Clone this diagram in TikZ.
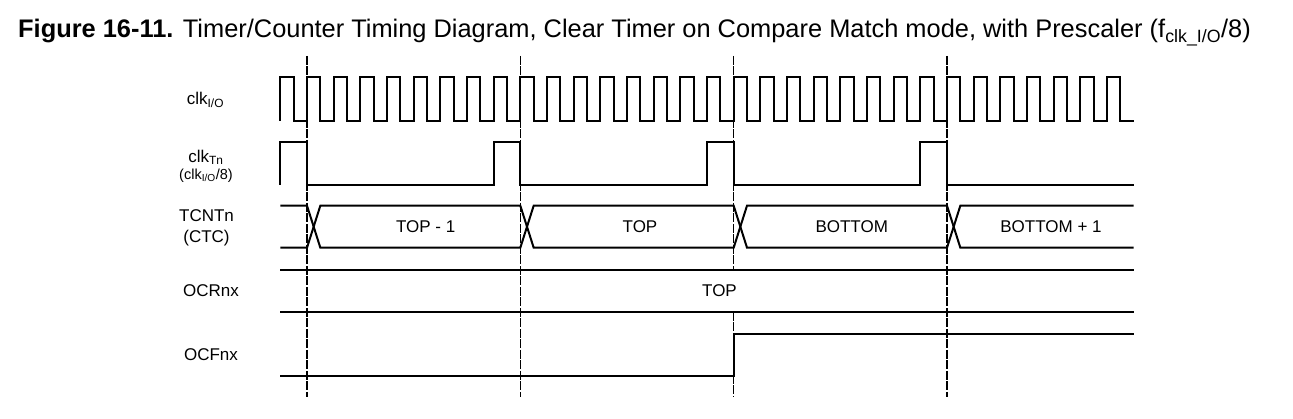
\documentclass[tikz,border=0pt]{standalone}
\usepackage{fontspec}
\setmainfont{Liberation Sans}
\usetikzlibrary{calc}

\begin{document}
\begin{tikzpicture}[
    x=1pt, y=-1pt,
    wave/.style={line width=2pt, line join=miter},
    marker/.style={line width=1.3pt, dash pattern=on 9pt off 1.5pt},
    siglabel/.style={align=center, font=\fontsize{17}{21}\selectfont},
    clklabel/.style={align=center, font=\fontsize{17}{17}\selectfont},
    value/.style={font=\fontsize{17}{21}\selectfont},
]
\useasboundingbox (0,0) rectangle (1293,419);

% title
\node[anchor=base west, inner sep=0pt, font=\fontsize{25.4}{28}\selectfont] (title) at (18,38)
  {\textbf{Figure 16-11.} Timer/Counter Timing Diagram, Clear Timer on Compare Match mode, with Prescaler (f\textsubscript{clk\_I/O}/8)};

% signal names
\node[clklabel, anchor=base west, inner sep=0pt] (clkio) at (186.7,105) {clk\textsubscript{I/O}};
\node[clklabel] (clktn) at (206,166) {clk\textsubscript{Tn}\\{\fontsize{14.5}{14.5}\selectfont(clk\textsubscript{I/O}/8)}};
\node[siglabel] (tcnt) at (206.5,227.5) {TCNTn\\(CTC)};
\node[siglabel, anchor=base] (ocr) at (211,296.7) {OCRnx};
\node[siglabel, anchor=base] (ocf) at (211,360.7) {OCFnx};

% clk I/O
\draw[wave] (280.33,121) \foreach \k in {0,...,31} {
  -- ++(0,-43.5) -- ++(13.333,0) -- ++(0,43.5) -- ++(13.333,0) };

% clk Tn
\draw[wave] (280.33,185) -- ++(0,-43.3) -- ++(26.667,0)
  \foreach \k in {1,2,3} {
    -- ++(0,43.3) -- ++(186.667,0) -- ++(0,-43.3) -- ++(26.667,0) }
  -- ++(0,43.3) -- (1133.67,185);

% TCNTn bus
\draw[wave] (280.33,205.7) -- (307,205.7)
  -- (320.33,247.7) -- (520.33,247.7) -- (533.67,205.7) -- (733.67,205.7)
  -- (747,247.7) -- (947,247.7) -- (960.33,205.7) -- (1133.67,205.7);
\draw[wave] (280.33,247.7) -- (307,247.7)
  -- (320.33,205.7) -- (520.33,205.7) -- (533.67,247.7) -- (733.67,247.7)
  -- (747,205.7) -- (947,205.7) -- (960.33,247.7) -- (1133.67,247.7);
\node[value] (v1) at (425.7,226.7) {TOP - 1};
\node[value] (v2) at (640,226.7) {TOP};
\node[value] (v3) at (851.7,226.7) {BOTTOM};
\node[value] (v4) at (1051,226.7) {BOTTOM + 1};

% OCRnx
\draw[wave] (280.33,270) -- (1133.67,270);
\draw[wave] (280.33,312) -- (1133.67,312);
\node[value] (vtop) at (719.5,290.5) {TOP};

% OCFnx
\draw[wave] (280.33,375.7) -- (733.67,375.7) -- (733.67,334) -- (1133.67,334);

% clock edge markers (the one at TOP is broken by the OCRnx value)
\foreach \d in {307,520.33,947}
  \draw[marker] (\d,56) -- (\d,397);
\draw[marker] (733.67,56) -- (733.67,270);
\draw[marker] (733.67,312) -- (733.67,397);

\end{tikzpicture}
\end{document}
